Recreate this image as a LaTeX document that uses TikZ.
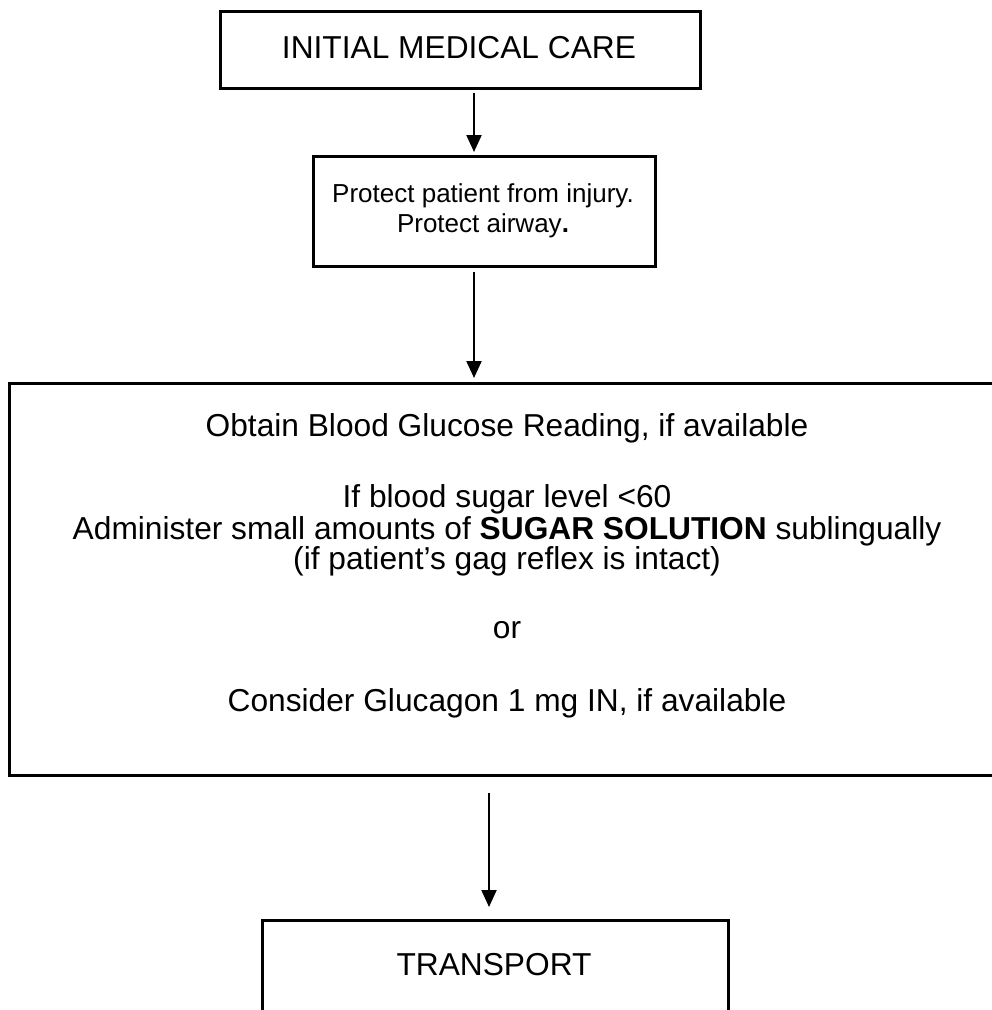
\documentclass[tikz,border=0pt]{standalone}
\usepackage{fontspec}
\setmainfont{Liberation Sans}
\usetikzlibrary{arrows.meta}
\begin{document}
\begin{tikzpicture}[x=1pt,y=-1pt,
  box/.style={draw, line width=2.6pt, rectangle, inner sep=0pt, anchor=north west},
  big/.style={font=\fontsize{31.7}{36}\selectfont, anchor=base, inner sep=0pt},
  small/.style={font=\fontsize{26}{30}\selectfont, anchor=base, inner sep=0pt},
  arr/.style={line width=2.2pt, -{Triangle[length=17pt,width=15pt]}}]
\clip (0,0) rectangle (992,1010);
\fill[white] (0,0) rectangle (992,1010);

% boxes
\node[box, minimum width=480pt, minimum height=77pt] (care) at (219,10) {};
\node[box, minimum width=342pt, minimum height=110pt] (protect) at (312,155) {};
\node[box, minimum width=998pt, minimum height=392pt] (glucose) at (8,382) {};
\node[box, minimum width=466pt, minimum height=150pt] (transport) at (261,919) {};

% texts
\node[big] (careT) at (459,58) {INITIAL MEDICAL CARE};
\node[small] (protA) at (483,202) {Protect patient from injury.};
\node[small] (protB) at (483,232) {Protect airway{\bfseries .}};
\node[big] (gl1) at (507,436) {Obtain Blood Glucose Reading, if available};
\node[big] (gl2) at (507,507) {If blood sugar level <60};
\node[big] (gl3) at (507,539) {Administer small amounts of \textbf{SUGAR SOLUTION} sublingually};
\node[big] (gl4) at (507,569) {(if patient’s gag reflex is intact)};
\node[big] (gl5) at (507,638) {or};
\node[big] (gl6) at (507,711) {Consider Glucagon 1 mg IN, if available};
\node[big] (trT) at (494,975) {TRANSPORT};

% connector columns
\coordinate (c1) at (474,0);
\coordinate (c3) at (489,0);

% connectors
\draw[arr, shorten <=3pt, shorten >=3pt] (care.south -| c1) -- (protect.north -| c1);
\draw[arr, shorten <=4pt, shorten >=4pt] (protect.south -| c1) -- (glucose.north -| c1);
\draw[arr, shorten <=16pt, shorten >=12pt] (glucose.south -| c3) -- (transport.north -| c3);
\end{tikzpicture}
\end{document}
